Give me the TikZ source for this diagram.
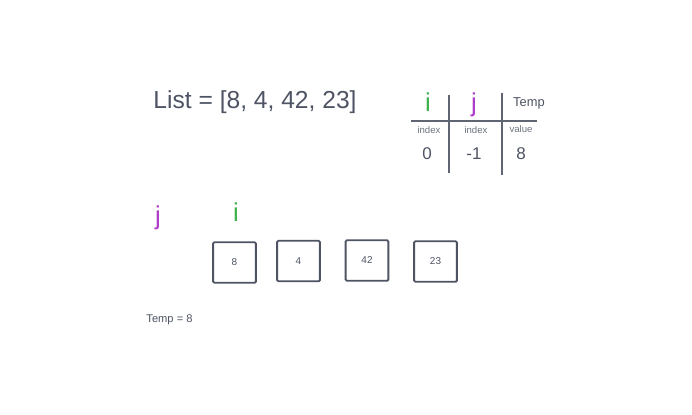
\documentclass[tikz,border=0pt]{standalone}
\usepackage{fontspec}
\setmainfont{Liberation Sans}
\usepackage{xcolor}
\usetikzlibrary{positioning, calc}

\definecolor{inkgray}{RGB}{78,84,100}
\definecolor{softgray}{RGB}{110,116,128}
\definecolor{ptrgreen}{RGB}{64,178,80}
\definecolor{ptrpurple}{RGB}{174,62,201}

\begin{document}
\begin{tikzpicture}[x=0.03cm, y=-0.03cm,
    txt/.style={inkgray, inner sep=0pt, font=#1},
    txt/.default={\fontsize{9.5}{11}\selectfont},
    small/.style={softgray, inner sep=0pt, font=\fontsize{8.2}{10}\selectfont},
    ptr/.style={inner sep=0pt, font=\fontsize{22}{24}\selectfont},
    cell/.style={draw=inkgray, line width=1.6pt, rounded corners=1pt,
      minimum width=36.5pt, minimum height=34.5pt, inner sep=0pt,
      text=inkgray, font=\fontsize{8.5}{10}\selectfont},
    rule/.style={draw=inkgray!90, line width=1.7pt}
  ]
  \useasboundingbox[fill=white] (0,0) rectangle (692,414);
  % List heading
  \node[txt={\fontsize{21}{24}\selectfont}] (list) at (255,102) {List = [8, 4, 42, 23]};
  % Table of i, j, Temp
  \coordinate (hl) at (411,121);
  \coordinate (hr) at (537,121);
  \coordinate (va) at (449,95);
  \coordinate (vb) at (449,173);
  \coordinate (wa) at (502,93);
  \coordinate (wb) at (502,175);
  \draw[rule] (hl) -- (hr);
  \draw[rule] (va) -- (vb);
  \draw[rule] (wa) -- (wb);
  \node[ptr, ptrgreen] (tabi) at (428,102) {i};
  \node[ptr, ptrpurple] (tabj) at (474,105) {j};
  \node[txt={\fontsize{11}{13}\selectfont}] (tabtemp) at (529,103) {Temp};
  \node[small] (idxi) at (429,130) {index};
  \node[small] (idxj) at (476,130) {index};
  \node[small] (val) at (521,129) {value};
  \node[txt={\fontsize{14.5}{16}\selectfont}] (vi) at (427,154) {0};
  \node[txt={\fontsize{14.5}{16}\selectfont}] (vj) at (474,154) {-1};
  \node[txt={\fontsize{14.5}{16}\selectfont}] (vtemp) at (521,154) {8};
  % pointers over the array
  \node[ptr, ptrpurple] (lowj) at (158,218) {j};
  \node[ptr, ptrgreen] (lowi) at (236,212) {i};
  % array cells
  \node[cell] (c1) at (234.5,262.5) {8};
  \node[cell] (c2) at (298.5,261) {4};
  \node[cell] (c3) at (367,260.5) {42};
  \node[cell] (c4) at (435.5,261.5) {23};
  % temp note
  \node[txt] (tempeq) at (169.5,320) {Temp = 8};
\end{tikzpicture}
\end{document}
